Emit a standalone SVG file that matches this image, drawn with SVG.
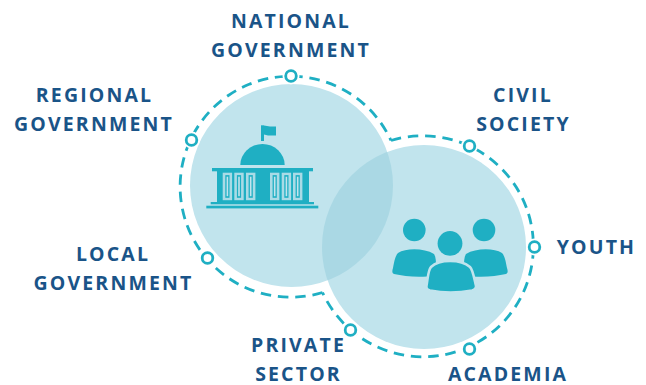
<svg xmlns="http://www.w3.org/2000/svg" width="646" height="385" viewBox="0 0 646 385">
<style>
.lbl{font-family:"Open Sans","Liberation Sans",sans-serif;font-weight:700;font-size:19.5px;letter-spacing:2.15px;fill:#1a5488;text-anchor:middle}
.disc{fill:#c1e4ed}
.ov{fill:#aad8e4}
.dash{fill:none;stroke:#1fafc3;stroke-width:2.8;stroke-dasharray:10.5 6.8}
.halo{fill:#fff}
.port{fill:#fff;stroke:#1fafc3;stroke-width:2.8}
.t{fill:#1fafc3}
.w{fill:#a9dbe6}
.w2{fill:#1fafc3}
.w3{fill:#c1e4ed}
.gap{stroke:#c1e4ed;stroke-width:2.5}
</style>
<defs>
<clipPath id="c1"><circle cx="291.500" cy="185.500" r="101.500"/></clipPath>
<g id="win">
<rect class="w" x="0" y="0" width="9.400" height="27.500"/>
<rect class="w2" x="2.600" y="2.400" width="4.200" height="22.700"/>
<rect class="w3" x="3.900" y="4" width="1.600" height="19.500"/>
</g>
</defs>
<g id="discs">
<circle class="disc" cx="291.500" cy="185.500" r="101.500"/>
<circle class="disc" cx="424" cy="247" r="102"/>
<circle class="ov" cx="424" cy="247" r="102" clip-path="url(#c1)"/>
</g>
<g id="connectors">
<path class="dash" d="M322.500 292.500A110.500 110.500 0 1 1 391 140.500"/>
<path class="dash" d="M391 140.500A110.500 110.500 0 1 1 322.500 292.500"/>
</g>
<g id="building">
<path class="t" d="M240.300 165A22.200 21 0 0 1 284.700 165Z"/>
<rect class="t" x="261" y="125.300" width="3" height="15.700"/>
<path class="t" d="M264 125.500L270 126.500H276V135.500H268L264 134.500Z"/>
<rect class="t" x="212" y="168" width="101" height="3.300"/>
<rect class="t" x="217" y="171" width="92" height="31"/>
<rect class="t" x="210.700" y="202" width="103.300" height="2.300"/>
<rect class="t" x="206.300" y="205.700" width="112" height="2.700"/>
<use href="#win" x="222.700" y="172.700"/>
<use href="#win" x="234.300" y="172.700"/>
<use href="#win" x="246" y="172.700"/>
<use href="#win" x="270" y="172.700"/>
<use href="#win" x="281.700" y="172.700"/>
<use href="#win" x="293" y="172.700"/>
</g>
<g id="people">
<circle class="t" cx="414.300" cy="230" r="11.300"/>
<circle class="t" cx="484" cy="230" r="11.300"/>
<circle class="t" cx="450" cy="243.400" r="12.400"/>
<path class="t" d="M398 253C406 248 424 248 434 254C436 257 436 262 436 266L427 276.500C415 277.500 403 276 394 274C392 273.500 392 271 393 268C394 263 395 256 398 253Z"/>
<path class="t" d="M502 253C494 248 476 248 466 254C464 257 464 262 464 266L473 276.500C485 277.500 497 276 506 274C508 273.500 508 271 507 268C506 263 505 256 502 253Z"/>
<path class="t gap" d="M431 267C439 259 461 259 470 267C473 270 474 278 476 286C476 289 474 290 472 290.500C458 293 443 293 430 290.500C428 290 426 289 426.500 286C428 278 428 270 431 267Z"/>
</g>
<g id="national"><circle class="halo" cx="291" cy="76" r="8.500"/><circle class="port" cx="291" cy="76" r="5.300"/><text class="lbl" x="291" y="28">NATIONAL</text><text class="lbl" x="291" y="57">GOVERNMENT</text></g>
<g id="regional"><circle class="halo" cx="191.500" cy="140" r="8.500"/><circle class="port" cx="191.500" cy="140" r="5.300"/><text class="lbl" x="94.500" y="102">REGIONAL</text><text class="lbl" x="94" y="131">GOVERNMENT</text></g>
<g id="local"><circle class="halo" cx="207.500" cy="258" r="8.500"/><circle class="port" cx="207.500" cy="258" r="5.300"/><text class="lbl" x="113" y="261">LOCAL</text><text class="lbl" x="113.500" y="290">GOVERNMENT</text></g>
<g id="private"><circle class="halo" cx="350.500" cy="330" r="8.500"/><circle class="port" cx="350.500" cy="330" r="5.300"/><text class="lbl" x="298.500" y="352">PRIVATE</text><text class="lbl" x="298.500" y="381">SECTOR</text></g>
<g id="academia"><circle class="halo" cx="469.500" cy="349" r="8.500"/><circle class="port" cx="469.500" cy="349" r="5.300"/><text class="lbl" x="508" y="381">ACADEMIA</text></g>
<g id="youth"><circle class="halo" cx="534.500" cy="247" r="8.500"/><circle class="port" cx="534.500" cy="247" r="5.300"/><text class="lbl" x="596.500" y="254">YOUTH</text></g>
<g id="civil"><circle class="halo" cx="469.500" cy="146" r="8.500"/><circle class="port" cx="469.500" cy="146" r="5.300"/><text class="lbl" x="523" y="102">CIVIL</text><text class="lbl" x="523.500" y="131">SOCIETY</text></g>
</svg>
